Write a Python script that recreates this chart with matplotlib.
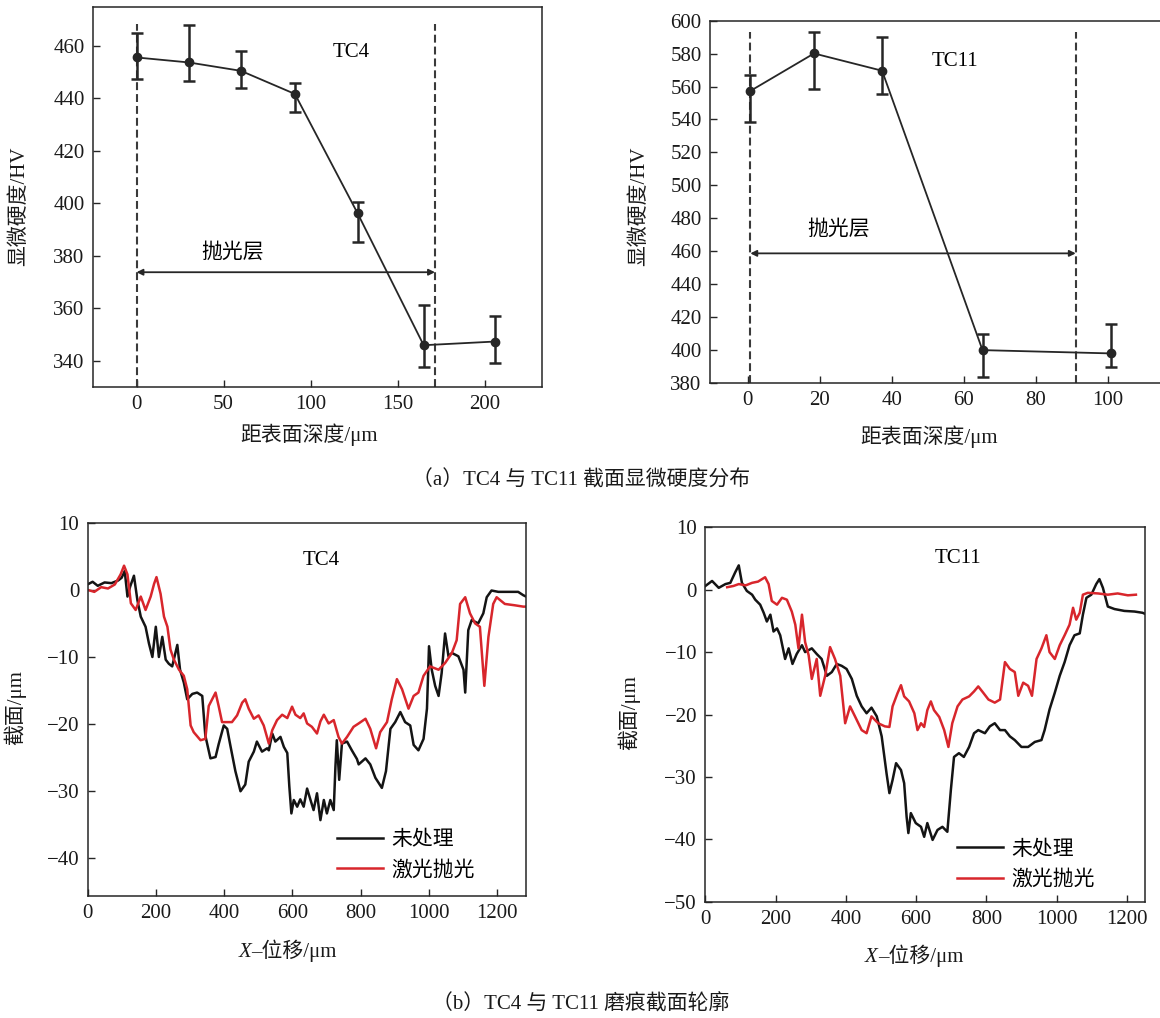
import numpy as np
import matplotlib.pyplot as plt

plt.rcParams['font.family'] = ['Liberation Serif', 'Noto Sans CJK SC']
plt.rcParams['axes.unicode_minus'] = True

## Microhardness data
tc4_depth = [0, 30, 60, 91, 127, 165, 206]
tc4_hv = [455.6, 453.7, 450.5, 441.7, 396.3, 346.0, 347.4]
tc4_hv_hi = [465.1, 468.0, 458.1, 445.8, 400.7, 361.3, 357.1]
tc4_hv_lo = [447.4, 446.5, 444.0, 434.9, 385.3, 337.8, 339.2]
tc4_layer = [0, 171.5]

tc11_depth = [0.7, 18.4, 37.3, 65.2, 100.8]
tc11_hv = [557.3, 580.1, 569.6, 399.8, 397.8]
tc11_hv_hi = [566.8, 592.9, 590.3, 409.6, 415.5]
tc11_hv_lo = [538.2, 558.5, 555.2, 383.6, 389.7]
tc11_layer = [0.7, 91.1]

## Wear track profiles (x um, depth um)
tc4_raw = [(0, 0.8), (15, 1.2), (30, 0.6), (50, 1.1), (70, 1.0), (90, 1.4), (100, 1.8),
           (109, 2.8), (117, -1.0), (125, 0.5), (136, 2.1), (146, -1.5), (156, -4.0),
           (170, -5.5), (180, -8.0), (190, -10.0), (200, -5.5), (209, -10.0), (219, -7.0),
           (229, -10.4), (238, -11.0), (248, -11.4), (263, -8.2), (271, -11.9), (282, -13.8),
           (292, -16.3), (307, -15.5), (321, -15.3), (336, -15.8), (345, -21.7), (360, -25.1),
           (375, -24.9), (384, -23.0), (399, -20.2), (409, -20.7), (418, -23.1), (433, -27.0),
           (448, -30.0), (462, -29.0), (472, -25.6), (487, -24.1), (496, -22.6), (511, -24.1),
           (526, -23.6), (531, -23.9), (541, -21.4), (550, -22.6), (565, -21.9), (575, -23.4),
           (585, -24.3), (591, -29.3), (597, -33.3), (604, -31.3), (614, -32.3), (623, -31.2),
           (633, -32.3), (643, -29.6), (653, -31.3), (662, -32.8), (672, -30.3), (682, -34.3),
           (692, -31.3), (701, -33.3), (711, -31.3), (721, -32.8), (726, -26.3), (730, -22.4),
           (737, -28.3), (745, -22.9), (760, -22.6), (774, -23.9), (789, -25.2), (794, -26.0),
           (814, -25.1), (828, -26.0), (843, -28.0), (862, -29.5), (874, -27.0), (887, -20.7),
           (901, -19.7), (916, -18.2), (930, -19.7), (945, -20.2), (955, -23.1), (969, -23.9),
           (984, -22.2), (994, -17.7), (1000, -8.4), (1008, -11.9), (1018, -14.3), (1028, -15.8),
           (1037, -12.4), (1047, -6.5), (1057, -9.9), (1067, -9.4), (1086, -9.9), (1101, -11.9),
           (1106, -15.3), (1115, -6.0), (1125, -4.5), (1144, -5.0), (1159, -3.5), (1169, -1.1),
           (1183, -0.1), (1203, -0.3), (1232, -0.3), (1261, -0.3), (1276, -0.8), (1284, -1.0)]

tc4_laser = [(0, 0.0), (20, -0.3), (40, 0.4), (60, 0.2), (80, 0.8), (97, 2.3), (107, 3.6),
             (117, 2.3), (127, -2.0), (141, -3.0), (156, -1.0), (170, -3.0), (185, -1.0),
             (195, 0.9), (202, 1.9), (214, -0.6), (224, -4.0), (234, -5.5), (243, -8.9),
             (253, -10.4), (268, -11.9), (282, -12.8), (292, -14.8), (302, -20.2), (311, -21.2),
             (331, -22.4), (345, -22.2), (355, -17.3), (365, -16.3), (375, -15.3), (384, -17.3),
             (394, -19.7), (409, -19.7), (423, -19.7), (438, -18.7), (453, -16.8), (462, -16.3),
             (472, -17.7), (487, -19.2), (501, -18.7), (516, -20.2), (531, -22.9), (541, -20.9),
             (555, -19.4), (570, -18.6), (585, -19.1), (599, -17.4), (609, -18.6), (623, -19.1),
             (633, -18.4), (643, -19.9), (657, -20.4), (672, -21.4), (682, -19.6), (692, -18.6),
             (706, -19.9), (721, -19.4), (735, -21.9), (745, -22.9), (760, -21.9), (779, -20.4),
             (794, -19.9), (814, -19.2), (828, -20.7), (845, -23.6), (857, -21.2), (877, -19.7),
             (891, -16.3), (906, -13.3), (921, -14.8), (940, -17.7), (955, -15.8), (969, -15.3),
             (984, -12.8), (1003, -11.4), (1028, -11.9), (1047, -10.9), (1067, -9.4), (1081, -7.5),
             (1091, -2.1), (1106, -1.1), (1120, -3.5), (1135, -5.0), (1149, -5.5), (1162, -14.3),
             (1174, -7.0), (1188, -2.1), (1198, -1.1), (1222, -2.1), (1251, -2.3), (1276, -2.5),
             (1284, -2.5)]

tc11_raw = [(0, 0.6), (19, 1.4), (38, 0.3), (57, 0.9), (71, 1.1), (85, 2.8), (95, 3.9),
            (104, 1.1), (118, -0.2), (133, -0.8), (142, -1.6), (156, -2.4), (166, -3.7),
            (175, -5.1), (185, -4.0), (194, -6.7), (204, -6.2), (213, -7.3), (227, -11.1),
            (237, -9.4), (248, -11.9), (260, -10.3), (275, -8.9), (284, -10.0), (303, -9.4),
            (317, -10.3), (331, -11.1), (346, -13.8), (360, -13.2), (374, -11.9), (388, -12.2),
            (402, -12.7), (417, -14.3), (431, -17.0), (445, -18.7), (459, -19.8), (473, -18.9),
            (488, -20.3), (502, -23.5), (516, -29.5), (524, -32.6), (533, -30.5), (543, -27.8),
            (557, -28.9), (566, -31.0), (573, -36.4), (578, -39.0), (585, -35.8), (599, -37.4),
            (614, -38.0), (623, -39.6), (632, -37.4), (647, -40.1), (661, -38.5), (675, -38.0),
            (689, -38.8), (699, -32.1), (708, -26.8), (722, -26.2), (736, -26.8), (751, -25.2),
            (765, -23.0), (777, -22.5), (796, -23.0), (810, -21.9), (824, -21.4), (839, -22.5),
            (853, -22.5), (867, -23.5), (881, -24.1), (900, -25.2), (919, -25.2), (938, -24.4),
            (957, -24.1), (966, -22.5), (980, -19.2), (995, -16.5), (1009, -13.8), (1023, -11.6),
            (1037, -8.9), (1051, -7.3), (1066, -7.0), (1075, -4.0), (1085, -1.3), (1099, -0.8),
            (1113, 0.9), (1122, 1.7), (1132, 0.3), (1146, -2.7), (1165, -3.1), (1193, -3.4),
            (1222, -3.5), (1245, -3.7), (1253, -3.9)]

tc11_laser = [(62, 0.4), (80, 0.6), (95, 0.9), (115, 0.7), (133, 1.1), (150, 1.3), (170, 2.0),
              (180, 0.9), (189, -1.8), (204, -2.4), (218, -1.3), (232, -1.6), (246, -3.5),
              (256, -5.6), (265, -9.4), (275, -4.0), (284, -8.4), (294, -10.5), (303, -14.3),
              (317, -11.1), (327, -17.0), (341, -13.8), (355, -9.2), (369, -11.1), (384, -13.8),
              (398, -21.4), (412, -18.7), (426, -20.3), (445, -22.5), (459, -23.0), (473, -20.3),
              (492, -21.4), (511, -21.9), (524, -22.0), (533, -18.7), (547, -16.6), (557, -15.3),
              (566, -17.1), (580, -17.9), (595, -19.8), (604, -22.5), (614, -21.4), (623, -22.0),
              (632, -19.3), (642, -17.9), (651, -19.3), (666, -20.4), (680, -22.5), (692, -25.2),
              (703, -21.4), (718, -18.7), (732, -17.6), (751, -17.1), (765, -16.3), (777, -15.5),
              (791, -16.5), (806, -17.6), (824, -18.1), (839, -17.6), (853, -11.6), (867, -12.7),
              (881, -13.2), (891, -17.0), (905, -14.9), (919, -15.4), (930, -17.0), (943, -11.1),
              (957, -9.4), (971, -7.3), (980, -10.0), (995, -11.1), (1009, -8.9), (1023, -7.3),
              (1037, -5.6), (1047, -2.9), (1056, -4.8), (1066, -3.7), (1075, -0.8), (1089, -0.5),
              (1118, -0.6), (1146, -0.8), (1174, -0.6), (1203, -0.9), (1226, -0.8)]

legend_labels = ['未处理', '激光抛光']

W, H = 1160, 1018
fig = plt.figure(figsize=(W / 100, H / 100), dpi=100)

DARK = '#262626'
RED = '#d8262c'
FS = 15


def add_ax(l, r, t, b):
    return fig.add_axes([l / W, 1 - b / H, (r - l) / W, (b - t) / H])


def style(ax):
    for s in ax.spines.values():
        s.set_color(DARK)
        s.set_linewidth(1.1)
    ax.tick_params(direction='in', length=5, width=1, labelsize=15, pad=6,
                   colors=DARK, labelcolor='#1a1a1a')


def ftext(x, y, s, **kw):
    return fig.text(x / W, 1 - y / H, s, ha='center', va='center', fontsize=FS,
                    color='#1a1a1a', **kw)


def hardness(ax, depth, hv, hi, lo, layer, top, arrow_y):
    hv = np.array(hv)
    yerr = [hv - np.array(lo), np.array(hi) - hv]
    for x in layer:
        ax.plot([x, x], [ax.get_ylim()[0], top], ls=(0, (3.8, 1.9)), color='#3a3a3a', lw=1.5)
    ax.annotate('', xy=(layer[1], arrow_y), xytext=(layer[0], arrow_y),
                arrowprops=dict(arrowstyle='<|-|>', color=DARK, lw=1.3,
                                mutation_scale=9, shrinkA=0, shrinkB=0))
    ax.errorbar(depth, hv, yerr=yerr, fmt='-o', color=DARK, ms=6, lw=1.3,
                elinewidth=1.8, capsize=4, capthick=1.8, zorder=3)


## (a) microhardness
ax1 = add_ax(93, 542, 7.3, 386.7)
ax1.set_xlim(-25, 233)
ax1.set_ylim(330.2, 474.7)
hardness(ax1, tc4_depth, tc4_hv, tc4_hv_hi, tc4_hv_lo, tc4_layer, 468.5, 373.8)
ax1.set_xticks([0, 50, 100, 150, 200])
ax1.set_yticks(np.arange(340, 461, 20))
ax1.text(123.6, 457.5, 'TC4', ha='center', va='center', fontsize=FS)
ax1.text(55.2, 381.6, '抛光层', ha='center', va='center', fontsize=FS,
         family=['Noto Sans CJK SC'])
style(ax1)

ax2 = add_ax(710, 1160, 20.7, 382.7)
ax2.set_xlim(-10.5, 114.5)
ax2.set_ylim(380, 600)
hardness(ax2, tc11_depth, tc11_hv, tc11_hv_hi, tc11_hv_lo, tc11_layer, 593.3, 458.6)
ax2.set_xticks(np.arange(0, 101, 20))
ax2.set_yticks(np.arange(380, 601, 20))
ax2.text(57.6, 575.5, 'TC11', ha='center', va='center', fontsize=FS)
ax2.text(25.3, 473.2, '抛光层', ha='center', va='center', fontsize=FS,
         family=['Noto Sans CJK SC'])
style(ax2)
ax2.spines['right'].set_visible(False)

ftext(19.6, 206, '显微硬度/HV', rotation=90)
ftext(639, 206, '显微硬度/HV', rotation=90)
ftext(309, 435, '距表面深度/μm')
ftext(929, 436.7, '距表面深度/μm')
ftext(581, 480, '（a）TC4 与 TC11 截面显微硬度分布')


## (b) wear track profiles
def profile(ax, raw, laser, leg_x, leg_y):
    xr, yr = np.array(raw).T
    xl, yl = np.array(laser).T
    ax.plot(xr, yr, color='#141414', lw=1.8, label=legend_labels[0])
    ax.plot(xl, yl, color=RED, lw=1.8, label=legend_labels[1])
    ax.legend(loc='center left', frameon=False, fontsize=FS, borderpad=0, borderaxespad=0,
              handlelength=2.2, handletextpad=0.4, labelspacing=0.5,
              bbox_to_anchor=(leg_x / W, 1 - leg_y / H), bbox_transform=fig.transFigure)


ax3 = add_ax(87.5, 526, 522.7, 896)
ax3.set_xlim(0, 1284)
ax3.set_ylim(-45.6, 10)
profile(ax3, tc4_raw, tc4_laser, 336.7, 855.3)
ax3.set_xticks(np.arange(0, 1201, 200))
ax3.set_yticks([-40, -30, -20, -10, 0, 10])
ax3.text(684, 4.4, 'TC4', ha='center', va='center', fontsize=FS)
style(ax3)

ax4 = add_ax(705.4, 1145.4, 527.3, 901.7)
ax4.set_xlim(0, 1253)
ax4.set_ylim(-50, 10)
profile(ax4, tc11_raw, tc11_laser, 957, 865)
ax4.set_xticks(np.arange(0, 1201, 200))
ax4.set_yticks(np.arange(-50, 11, 10))
ax4.text(720, 5.0, 'TC11', ha='center', va='center', fontsize=FS)
style(ax4)

ftext(15, 708, '截面/μm', rotation=90)
ftext(629, 713, '截面/μm', rotation=90)
ftext(581, 1004, '（b）TC4 与 TC11 磨痕截面轮廓')

# x label with italic X
renderer = fig.canvas.get_renderer()


def xlabel_italic(cx, cy):
    a = fig.text(0, 0, 'X', style='italic', fontsize=FS, va='baseline', color='#1a1a1a')
    b = fig.text(0, 0, '–位移/μm', fontsize=FS, va='baseline', color='#1a1a1a')
    wa = a.get_window_extent(renderer).width
    wb = b.get_window_extent(renderer).width
    x0 = cx - (wa + wb) / 2
    a.set_position((x0 / W, 1 - (cy + 7) / H))
    b.set_position(((x0 + wa) / W, 1 - (cy + 7) / H))


xlabel_italic(287.5, 950)
xlabel_italic(914, 955)

fig.savefig('out.png', dpi=100)
